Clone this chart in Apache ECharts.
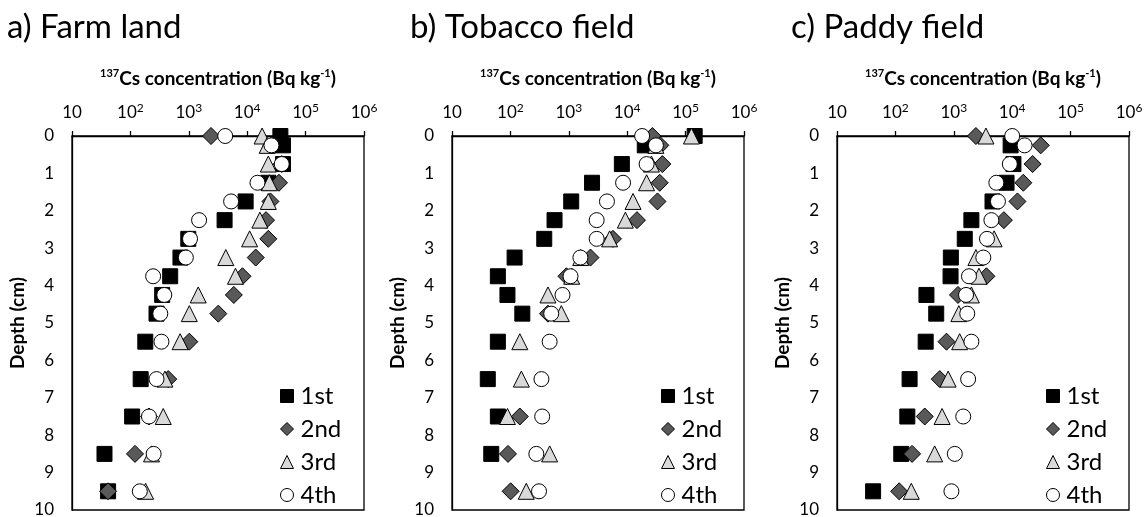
<!DOCTYPE html>
<html><head><meta charset="utf-8">
<script src="https://cdn.jsdelivr.net/npm/echarts@6/dist/echarts.min.js"></script>
<style>html,body{margin:0;padding:0;background:#fff}#c{width:1147px;height:517px}</style>
</head><body><div id="c"></div>
<script>
// ---- data ----
const depths = [0, 0.25, 0.75, 1.25, 1.75, 2.25, 2.75, 3.25, 3.75, 4.25, 4.75, 5.5, 6.5, 7.5, 8.5, 9.5];
const seriesNames = ['1st', '2nd', '3rd', '4th'];
const panelTitles = ['a) Farm land', 'b) Tobacco field', 'c) Paddy field'];
const xTickLabels = ['10', '10{s|2}', '10{s|3}', '10{s|4}', '10{s|5}', '10{s|6}'];
const depthTicks = [0, 1, 2, 3, 4, 5, 6, 7, 8, 9, 10];

// a) Farm land
const farm1st = [37000, 41000, 41000, 23000, 9400, 4100, 980, 720, 480, 350, 280, 180, 150, 107, 36, 41.5];
const farm2nd = [2400, 26000, 39000, 35000, 25000, 21000, 23000, 14000, 8300, 5900, 3200, 1020, 445, 208, 120, 41.5];
const farm3rd = [18000, 22000, 23000, 24000, 23000, 16500, 11000, 4300, 6300, 1450, 1020, 710, 390, 365, 230, 182];
const farm4th = [4200, 26000, 39000, 15000, 5300, 1500, 1050, 890, 245, 380, 325, 340, 280, 208, 250, 145];

// b) Tobacco field
const tob1st = [143000, 20000, 8100, 2500, 1100, 570, 380, 118, 61, 89, 160, 61, 41, 61, 47, null];
const tob2nd = [27000, 37000, 40000, 36000, 33000, 14700, 5700, 2350, 910, null, 440, null, null, 145, 91, 101];
const tob3rd = [126000, 31000, 26000, 21500, 12600, 9300, 5000, 1600, 1120, 440, 745, 145, 154, 89, 470, 187];
const tob4th = [18000, 31000, 21500, 8500, 4500, 3000, 3000, 1580, 1070, 780, 500, 470, 340, 350, 278, 309];

// c) Paddy field
const pad1st = [null, 9400, 10500, 8000, 4600, 2000, 1540, 890, 880, 340, 500, 330, 175, 160, 126, 41.5];
const pad2nd = [2390, 30800, 22400, 15500, 12300, 7200, null, null, 3620, 1180, null, 750, 575, 318, 193, 116];
const pad3rd = [3550, null, null, null, null, null, 4900, 2390, 2700, 2000, 1220, 1260, 800, 630, 470, 187];
const pad4th = [10000, 16300, 9100, 5350, 5700, 4400, 3700, 3200, 1820, 1620, 1700, 2000, 1760, 1450, 1040, 910];

const panelData = [
  [farm1st, farm2nd, farm3rd, farm4th],
  [tob1st, tob2nd, tob3rd, tob4th],
  [pad1st, pad2nd, pad3rd, pad4th]
];

// ---- styles ----
const FONT = 'Lato, "Open Sans", sans-serif';
const gridLefts = [72, 452, 837];
const gridWidth = 292;
const titleLefts = [2, 405, 786];
const legendLefts = [275, 656, 1041];
const symbolStyles = [
  { symbol: 'rect', size: 15, color: '#000000' },
  { symbol: 'diamond', size: 17, color: '#595959' },
  { symbol: 'triangle', size: 16, color: '#d9d9d9' },
  { symbol: 'circle', size: 15, color: '#ffffff' }
];

const grids = [], xAxes = [], yAxes = [], series = [], titles = [], legends = [];
gridLefts.forEach((gl, p) => {
  grids.push({ left: gl, width: gridWidth, top: 136, height: 374, show: true,
    borderColor: '#000', borderWidth: 1.3, backgroundColor: 'transparent', outerBoundsMode: 'none' });
  xAxes.push({
    type: 'log', logBase: 10, min: 10, max: 1000000, gridIndex: p, position: 'top',
    name: '{s|137}Cs concentration (Bq kg{s|-1})', nameLocation: 'middle', nameGap: 46,
    nameTextStyle: { fontFamily: FONT, fontSize: 19, fontWeight: 'bold', color: '#000', lineHeight: 22,
      rich: { s: { fontFamily: FONT, fontSize: 11, fontWeight: 'bold', color: '#000', verticalAlign: 'top', lineHeight: 22 } } },
    axisLine: { show: true, lineStyle: { color: '#000', width: 1.3 } },
    axisTick: { show: true, inside: false, length: 5, lineStyle: { color: '#000', width: 1.3 } },
    minorTick: { show: false }, splitLine: { show: false },
    axisLabel: {
      margin: 13, fontFamily: FONT, fontSize: 17, color: '#000', lineHeight: 21,
      formatter: v => xTickLabels[Math.round(Math.log10(v)) - 1],
      rich: { s: { fontFamily: FONT, fontSize: 12, color: '#000', verticalAlign: 'top', lineHeight: 21 } }
    }
  });
  yAxes.push({
    type: 'value', gridIndex: p, inverse: true, min: 0, max: 10, interval: 1,
    name: 'Depth (cm)', nameLocation: 'middle', nameGap: 45, nameRotate: 90,
    nameTextStyle: { fontFamily: FONT, fontSize: 19, fontWeight: 'bold', color: '#000' },
    axisLine: { show: true, lineStyle: { color: '#000', width: 1.3 } },
    axisTick: { show: false }, splitLine: { show: false },
    axisLabel: { margin: 18, fontFamily: FONT, fontSize: 17, color: '#000',
      formatter: v => depthTicks.includes(v) ? String(v) : '' }
  });
  titles.push({ text: panelTitles[p], left: titleLefts[p], top: 6,
    textStyle: { fontFamily: FONT, fontSize: 33, fontWeight: 'normal', color: '#000' } });
  panelData[p].forEach((vals, s) => {
    const st = symbolStyles[s];
    series.push({
      name: seriesNames[s], type: 'scatter', xAxisIndex: p, yAxisIndex: p,
      symbol: st.symbol, symbolSize: st.size,
      itemStyle: { color: st.color, borderColor: '#000', borderWidth: 1, opacity: 1 },
      emphasis: { disabled: true },
      data: depths.map((d, i) => vals[i] == null ? null : [vals[i], d]).filter(x => x)
    });
  });
  legends.push({
    orient: 'vertical', left: legendLefts[p], top: 378, itemWidth: 13, itemHeight: 13, itemGap: 7,
    selectedMode: false,
    textStyle: { fontFamily: FONT, fontSize: 24, color: '#000', lineHeight: 26, padding: [0, 0, 0, 2] },
    data: seriesNames.map((n, s) => ({ name: n, icon: symbolStyles[s].symbol,
      itemStyle: { color: symbolStyles[s].color, borderColor: '#000', borderWidth: 1 } }))
  });
});

const chart = echarts.init(document.getElementById('c'), null, { renderer: 'canvas' });
chart.setOption({
  animation: false, backgroundColor: '#fff',
  title: titles, grid: grids, xAxis: xAxes, yAxis: yAxes, legend: legends, series: series
});
</script></body></html>
